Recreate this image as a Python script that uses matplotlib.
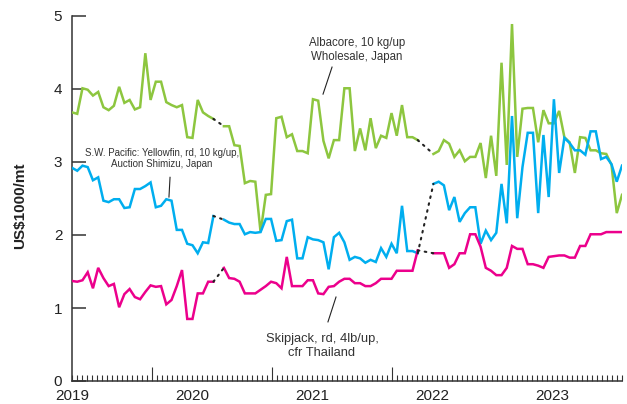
import numpy as np
import matplotlib
matplotlib.use("Agg")
import matplotlib.pyplot as plt
from matplotlib.ticker import FixedLocator, FuncFormatter, NullFormatter

plt.rcParams['font.family'] = ['Liberation Sans', 'DejaVu Sans']

# ____________________________________________________________
# price series, US$1000/mt, roughly twice a month from Jan 2019 (nan = no quote)

nan = np.nan

albacore = [3.68, 3.66, 4.01, 3.99, 3.91, 3.96, 3.75, 3.71, 3.77, 4.03, 3.81, 3.85, 3.72, 3.75,
            4.49, 3.85, 4.10, 4.10, 3.82, 3.78, 3.75, 3.78, 3.34, 3.33, 3.85, 3.68, 3.63, 3.59,
            nan,
            3.49, 3.49, 3.23, 3.22, 2.71, 2.74, 2.73, 2.04, 2.55, 2.56, 3.60, 3.62, 3.34, 3.38,
            3.15, 3.15, 3.12, 3.86, 3.84, 3.29, 3.05, 3.30, 3.30, 4.01, 4.01, 3.15, 3.46, 3.16,
            3.60, 3.19, 3.36, 3.33, 3.67, 3.36, 3.78, 3.34, 3.34, 3.30,
            nan, nan,
            3.11, 3.15, 3.30, 3.25, 3.07, 3.16, 3.01, 3.07, 3.07, 3.26, 2.78, 3.36, 2.81, 4.36,
            2.96, 4.89, 3.07, 3.73, 3.74, 3.74, 3.27, 3.71, 3.53, 3.53, 3.70, 3.34, 3.27, 2.85,
            3.34, 3.33, 3.16, 3.16, 3.12, 3.11, 2.96, 2.30, 2.55]

yellowfin = [2.92, 2.88, 2.95, 2.93, 2.75, 2.79, 2.47, 2.45, 2.49, 2.49, 2.37, 2.38, 2.63, 2.63,
             2.67, 2.72, 2.38, 2.40, 2.49, 2.47, 2.07, 2.07, 1.88, 1.86, 1.75, 1.90, 1.89, 2.26,
             nan,
             2.21, 2.17, 2.15, 2.15, 2.01, 2.04, 2.03, 2.04, 2.22, 2.22, 1.92, 1.93, 2.19, 2.21,
             1.68, 1.68, 1.97, 1.94, 1.93, 1.90, 1.53, 1.97, 2.03, 1.90, 1.66, 1.70, 1.68, 1.62,
             1.66, 1.63, 1.82, 1.70, 1.88, 1.75, 2.40, 1.78, 1.78, 1.75,
             nan, nan,
             2.70, 2.73, 2.68, 2.34, 2.52, 2.18, 2.30, 2.38, 2.38, 1.88, 2.06, 1.93, 2.03, 2.70,
             2.16, 3.63, 2.23, 2.93, 3.40, 3.40, 2.30, 3.37, 2.52, 3.86, 2.85, 3.33, 3.26, 3.16,
             3.16, 3.10, 3.42, 3.42, 3.04, 3.07, 2.97, 2.73, 2.95]

skipjack = [1.37, 1.36, 1.38, 1.49, 1.27, 1.55, 1.41, 1.30, 1.33, 1.01, 1.19, 1.26, 1.15, 1.12,
            1.22, 1.31, 1.29, 1.30, 1.05, 1.11, 1.30, 1.52, 0.85, 0.85, 1.20, 1.20, 1.36, 1.36,
            nan,
            1.55, 1.41, 1.40, 1.36, 1.20, 1.20, 1.20, 1.25, 1.30, 1.36, 1.34, 1.27, 1.70, 1.30,
            1.30, 1.30, 1.38, 1.38, 1.20, 1.19, 1.29, 1.30, 1.36, 1.40, 1.40, 1.34, 1.34, 1.30,
            1.30, 1.34, 1.40, 1.40, 1.40, 1.51, 1.51, 1.51, 1.51, 1.79,
            nan, nan,
            1.75, 1.75, 1.75, 1.55, 1.60, 1.75, 1.75, 2.01, 2.01, 1.84, 1.55, 1.51, 1.45, 1.45,
            1.55, 1.85, 1.81, 1.81, 1.60, 1.60, 1.58, 1.55, 1.70, 1.71, 1.72, 1.72, 1.69, 1.69,
            1.85, 1.85, 2.01, 2.01, 2.01, 2.04, 2.04, 2.04, 2.04]

years = [2019, 2020, 2021, 2022, 2023]
start, end = 2019.0, 2019 + 110 / 24
t = np.linspace(start, end, len(albacore))


# ____________________________________________________________
# plot

fig = plt.figure(figsize=(6.27, 4.04), dpi=100)
ax = fig.add_axes([72 / 627, 23 / 404, 550 / 627, 365 / 404])

series = [(albacore, '#8dc63f'), (yellowfin, '#00aeef'), (skipjack, '#ec008c')]
for values, colour in series:
    v = np.array(values, dtype=float)
    ax.plot(t, v, color=colour, lw=1.8, solid_joinstyle='miter', zorder=3)
    # dotted bridge over the missing quotes
    missing = np.isnan(v)
    i = 1
    while i < len(v):
        if missing[i] and not missing[i - 1]:
            j = i
            while missing[j]:
                j += 1
            ax.plot([t[i - 1], t[j]], [v[i - 1], v[j]], color='#222222', lw=1.5,
                    linestyle=(0, (0.8, 2.6)), dash_capstyle='round', zorder=4)
            i = j
        i += 1

# labels for each series
ax.text(2021.375, 4.53, 'Albacore, 10 kg/up\nWholesale, Japan', ha='center', va='center',
        fontsize=8.3, color='#333333', linespacing=1.2)
ax.plot([2021.167, 2021.092], [4.30, 3.93], color='#222222', lw=0.8)

ax.text(2019.75, 3.05, 'S.W. Pacific: Yellowfin, rd, 10 kg/up,\nAuction Shimizu, Japan',
        ha='center', va='center', fontsize=7.0, color='#333333', linespacing=1.15)
ax.plot([2019.817, 2019.808], [2.79, 2.52], color='#222222', lw=0.8)

ax.text(2021.083, 0.48, 'Skipjack, rd, 4lb/up,\ncfr Thailand', ha='center', va='center',
        fontsize=9.3, color='#333333', linespacing=1.3)
ax.plot([2021.2, 2021.133], [1.15, 0.81], color='#222222', lw=0.8)

# axes
ax.set_xlim(start, end)
ax.set_ylim(0, 5)
for side in ['top', 'right']:
    ax.spines[side].set_visible(False)
for side in ['left', 'bottom']:
    ax.spines[side].set_color('#333333')
    ax.spines[side].set_linewidth(1.1)

ax.set_yticks(range(6))
ax.tick_params(axis='y', direction='in', length=10, width=1.1, color='#333333',
               labelsize=11, labelcolor='#222222', pad=7)

ax.xaxis.set_major_locator(FixedLocator([y + 16 / 24 for y in years[:3]]))
ax.xaxis.set_major_formatter(NullFormatter())
ax.xaxis.set_minor_locator(FixedLocator(start + np.arange(0, 111) / 24))
ax.xaxis.set_minor_formatter(FuncFormatter(
    lambda v, p: str(int(round(v))) if abs(v - round(v)) < 1e-6 else ''))
ax.tick_params(axis='x', which='major', direction='in', length=10, width=0.8, color='#333333')
ax.tick_params(axis='x', which='minor', direction='in', length=4.3, width=0.8, color='#333333',
               labelsize=11, labelcolor='#222222', pad=5.5)

ax.set_ylabel('US$1000/mt', fontsize=11, fontweight='bold', color='#222222')
ax.yaxis.set_label_coords(-0.082, 0.48)

fig.savefig('out.png', dpi=100)
